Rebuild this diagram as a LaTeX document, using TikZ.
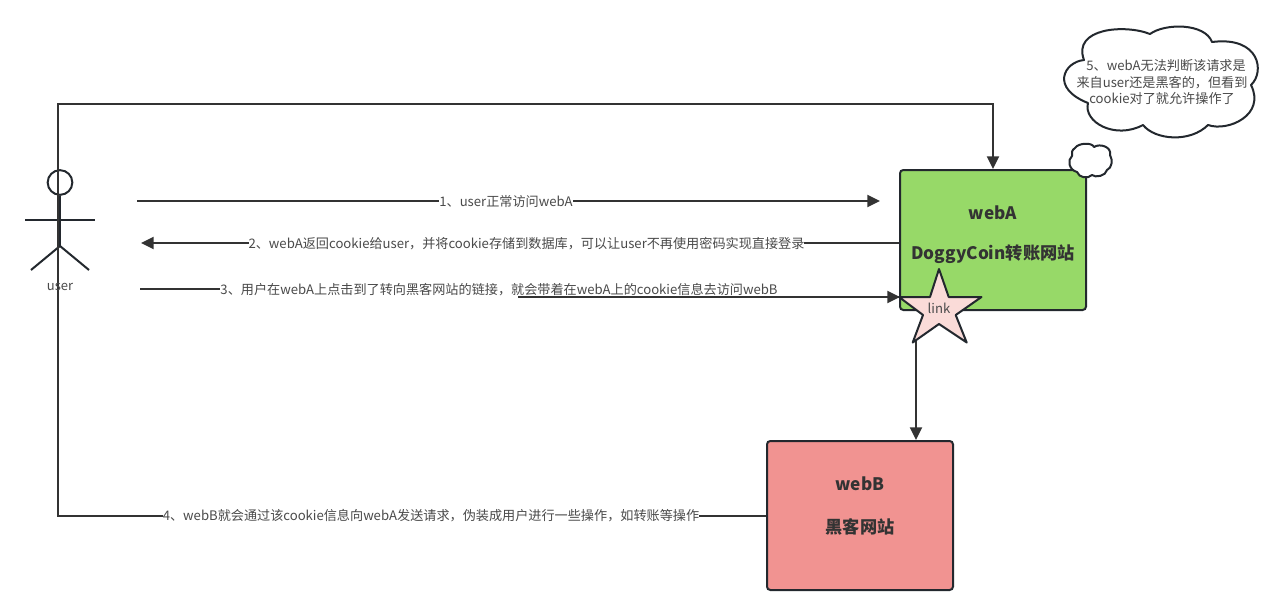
\documentclass[tikz,border=0pt]{standalone}
\usepackage{fontspec}
\setmainfont{Noto Sans CJK SC}
\usetikzlibrary{arrows.meta}
\definecolor{linec}{HTML}{333333}
\definecolor{bord}{HTML}{23282E}
\definecolor{txt}{HTML}{4A4A4A}
\definecolor{boxA}{HTML}{97D968}
\definecolor{boxB}{HTML}{F19391}
\definecolor{starc}{HTML}{FADBD8}
\tikzset{
 px/.style={x=0.75pt,y=-0.75pt},
 conn/.style={draw=linec,line width=1.6pt,line join=miter},
 arr/.style={-{Triangle[length=9.5pt,width=9pt]}},
 lab/.style={fill=white,inner sep=0pt,text=txt,font=\fontsize{9.85pt}{12pt}\selectfont,anchor=center},
 webbox/.style={draw=bord,line width=1.5pt,rounded corners=2.5pt,minimum width=139.5pt,inner sep=0pt},
 boxtext/.style={inner sep=0pt,text=linec,font=\fontsize{12.9pt}{15pt}\selectfont\bfseries},
 outline/.style={draw=bord,line width=1.5pt,line join=round},
 actorline/.style={draw=bord,line width=1.5pt},
}
\begin{document}
\begin{tikzpicture}[px]
\useasboundingbox (0,0) rectangle (1286,614);
\fill[white] (0,0) rectangle (1286,614);
% actor
\node[draw=bord,line width=1.5pt,circle,minimum size=18.5pt,inner sep=0pt] (head) at (60,182.5) {};
\coordinate (hip) at (60,246);
\coordinate (armL) at (25,220);
\coordinate (armR) at (95,220);
\coordinate (footL) at (31,270);
\coordinate (footR) at (89,270);
\draw[actorline] (head.south) -- (hip);
\draw[actorline] (armL) -- (armR);
\draw[actorline] (footL) -- (hip) -- (footR);
% boxes
\node[webbox,fill=boxA,minimum height=105pt] (webA) at (993,240) {};
\node[webbox,fill=boxB,minimum height=111.75pt] (webB) at (860,515.5) {};
\node[boxtext] (tA1) at (993,212.5) {webA};
\node[boxtext] (tA2) at (993,254.5) {DoggyCoin转账网站};
\node[boxtext] (tB1) at (860,483.5) {webB};
\node[boxtext] (tB2) at (860,526.5) {黑客网站};
% small cloud
\draw[outline,fill=white] (1075,148)
 .. controls (1078,143) and (1092,142) .. (1094,147)
 .. controls (1100,143) and (1112,147) .. (1110,155)
 .. controls (1113,160) and (1112,168) .. (1107,170)
 .. controls (1106,176) and (1095,178) .. (1092,175)
 .. controls (1088,179) and (1079,178) .. (1077,172)
 .. controls (1069,170) and (1067,160) .. (1072,156)
 .. controls (1071,153) and (1072,150) .. (1075,148) -- cycle;
% big cloud
\draw[outline,fill=white] (1084,60)
 .. controls (1064,62) and (1050,88) .. (1088,103)
 .. controls (1083,122) and (1115,140) .. (1143,125)
 .. controls (1155,140) and (1190,143) .. (1208,125)
 .. controls (1228,132) and (1266,115) .. (1251,85)
 .. controls (1265,72) and (1260,36) .. (1212,42)
 .. controls (1205,23) and (1165,23) .. (1150,34)
 .. controls (1125,24) and (1072,28) .. (1084,60) -- cycle;
\node[lab,fill=none] (c1) at (1166,65.5) {5、webA无法判断该请求是};
\node[lab,fill=none] (c2) at (1162,82.5) {来自user还是黑客的，但看到};
\node[lab,fill=none] (c3) at (1162,98.5) {cookie对了就允许操作了};
% connectors
\coordinate (a1s) at (137,201);
\coordinate (a1e) at (880,201);
\coordinate (a2e) at (141,243);
\coordinate (a3s) at (140,289);
\coordinate (a3m1) at (519,289);
\coordinate (a3m2) at (519,297);
\coordinate (a3e) at (900,297);
\coordinate (loopA) at (58,516);
\coordinate (loopB) at (58,104);
\coordinate (loopC) at (993,104);
\draw[conn,arr] (a1s) -- (a1e);
\node[lab] (l1) at (506,201.5) {1、user正常访问webA};
\draw[conn,arr] (webA.west |- a2e) -- (a2e);
\node[lab] (l2) at (526.5,243.5) {2、webA返回cookie给user，并将cookie存储到数据库，可以让user不再使用密码实现直接登录};
\draw[conn,arr] (a3s) -- (a3m1) -- (a3m2) -- (a3e);
\node[lab] (l3) at (499,289.5) {3、用户在webA上点击到了转向黑客网站的链接，就会带着在webA上的cookie信息去访问webB};
\draw[conn,arr] (webB.west |- loopA) -- (loopA) -- (loopB) -- (loopC) -- (webA.north -| loopC);
\node[lab] (l4) at (431,516) {4、webB就会通过该cookie信息向webA发送请求，伪装成用户进行一些操作，如转账等操作};
\node[text=txt,inner sep=0pt,font=\fontsize{9.75pt}{12pt}\selectfont] (user) at (60,287) {user};
% star
\coordinate (st1) at (939,269);
\coordinate (st2) at (948.7,297);
\coordinate (st3) at (981.5,297);
\coordinate (st4) at (955.7,315);
\coordinate (st5) at (966.7,342.5);
\coordinate (st6) at (939,324);
\coordinate (st7) at (912.7,342.5);
\coordinate (st8) at (923,315);
\coordinate (st9) at (899,297);
\coordinate (st10) at (930,297);
\draw[conn,arr] (916,335) -- (webB.north -| 916,0);
\draw[outline,fill=starc] (st1) -- (st2) -- (st3) -- (st4) -- (st5) -- (st6) -- (st7) -- (st8) -- (st9) -- (st10) -- cycle;
\node[lab,fill=none] (link) at (939,308.5) {link};
\end{tikzpicture}
\end{document}
